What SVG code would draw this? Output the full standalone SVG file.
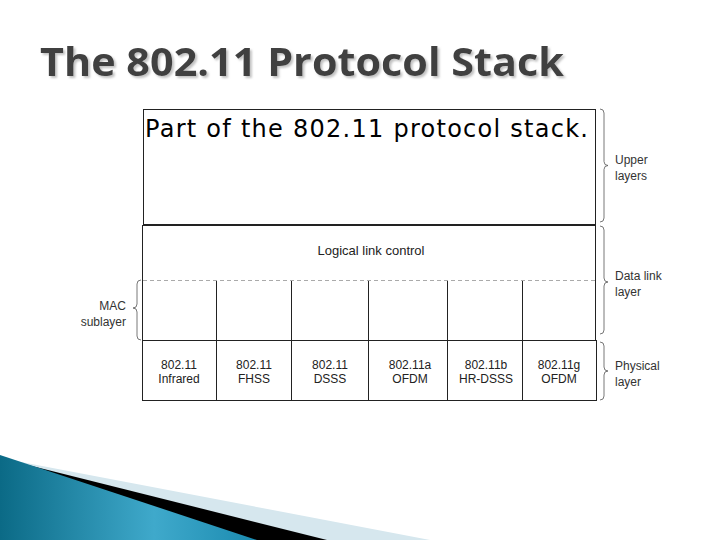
<svg xmlns="http://www.w3.org/2000/svg" width="720" height="540" viewBox="0 0 720 540">
<defs>
<linearGradient id="blue" x1="0" y1="0" x2="1" y2="0">
<stop offset="0" stop-color="#0b6a86"/>
<stop offset="0.6" stop-color="#3fa9cb"/>
<stop offset="1" stop-color="#1b8bb0"/>
</linearGradient>
<filter id="shadow" x="-5%" y="-20%" width="110%" height="150%">
<feDropShadow dx="2" dy="2" stdDeviation="0.8" flood-color="#bbb" flood-opacity="0.9"/>
</filter>
<style>
.box{fill:#fff;stroke:#222;stroke-width:1}
.col{stroke:#222;stroke-width:1}
.dash{stroke:#aaa;stroke-width:1;stroke-dasharray:4 3}
.lbl{font-family:"Liberation Sans",Arial,sans-serif;font-size:12px;fill:#222}
.side{font-family:"Liberation Sans",Arial,sans-serif;font-size:12px;fill:#333}
.brace{fill:none;stroke:#555;stroke-width:0.8}
</style>
</defs>
<rect width="720" height="540" fill="#fff"/>
<g id="title">
<text x="40" y="76" font-family="Open Sans, sans-serif" font-weight="700" font-size="40" fill="#404040" filter="url(#shadow)" textLength="524" lengthAdjust="spacingAndGlyphs">The 802.11 Protocol Stack</text>
</g>
<g id="upper">
<rect class="box" x="143.5" y="109.5" width="452" height="115"/>
<text x="145" y="137" font-family="DejaVu Sans, sans-serif" font-size="24" fill="#000" textLength="443" lengthAdjust="spacing">Part of the 802.11 protocol stack.</text>
</g>
<g id="datalink">
<rect class="box" x="142.5" y="225.5" width="453" height="115"/>
<line class="dash" x1="143" y1="280.5" x2="595" y2="280.5"/>
<text class="lbl" x="371" y="255" text-anchor="middle" style="font-size:13px">Logical link control</text>
</g>
<g id="physical">
<rect class="box" x="142.5" y="340.5" width="454" height="60"/>
</g>
<g id="connectors">
<line class="col" x1="216.5" y1="281" x2="216.5" y2="400"/>
<line class="col" x1="291.5" y1="281" x2="291.5" y2="400"/>
<line class="col" x1="368.5" y1="281" x2="368.5" y2="400"/>
<line class="col" x1="447.5" y1="281" x2="447.5" y2="400"/>
<line class="col" x1="522.5" y1="281" x2="522.5" y2="400"/>
<path class="brace" d="M600,109 q4,0 4,4 V161.5 q0,4 4,4 q-4,0 -4,4 V218 q0,4 -4,4"/>
<path class="brace" d="M600,226 q4,0 4,4 V278 q0,4 4,4 q-4,0 -4,4 V330 q0,4 -4,4"/>
<path class="brace" d="M600,342 q4,0 4,4 V367 q0,4 4,4 q-4,0 -4,4 V396 q0,4 -4,4"/>
<path class="brace" d="M141,280 q-4,0 -4,4 V304 q0,4 -4,4 q4,0 4,4 V336 q0,4 4,4"/>
</g>
<g id="cells">
<text class="lbl" text-anchor="middle"><tspan x="179" y="369">802.11</tspan><tspan x="179" y="383">Infrared</tspan></text>
<text class="lbl" text-anchor="middle"><tspan x="254" y="369">802.11</tspan><tspan x="254" y="383">FHSS</tspan></text>
<text class="lbl" text-anchor="middle"><tspan x="330" y="369">802.11</tspan><tspan x="330" y="383">DSSS</tspan></text>
<text class="lbl" text-anchor="middle"><tspan x="410" y="369">802.11a</tspan><tspan x="410" y="383">OFDM</tspan></text>
<text class="lbl" text-anchor="middle"><tspan x="486" y="369">802.11b</tspan><tspan x="486" y="383">HR-DSSS</tspan></text>
<text class="lbl" text-anchor="middle"><tspan x="559" y="369">802.11g</tspan><tspan x="559" y="383">OFDM</tspan></text>
</g>
<g id="side-labels">
<text class="side"><tspan x="615" y="164">Upper</tspan><tspan x="615" y="180">layers</tspan></text>
<text class="side"><tspan x="615" y="280">Data link</tspan><tspan x="615" y="296">layer</tspan></text>
<text class="side"><tspan x="615" y="370">Physical</tspan><tspan x="615" y="386">layer</tspan></text>
<text class="side" text-anchor="end"><tspan x="126" y="310">MAC</tspan><tspan x="126" y="326">sublayer</tspan></text>
</g>
<g id="swoosh">
<polygon points="0,458 430,540 0,540" fill="#d6e7ee"/>
<polygon points="0,458 327,540 0,540" fill="#000"/>
<polygon points="0,455 257,540 0,540" fill="url(#blue)"/>
</g>
</svg>
